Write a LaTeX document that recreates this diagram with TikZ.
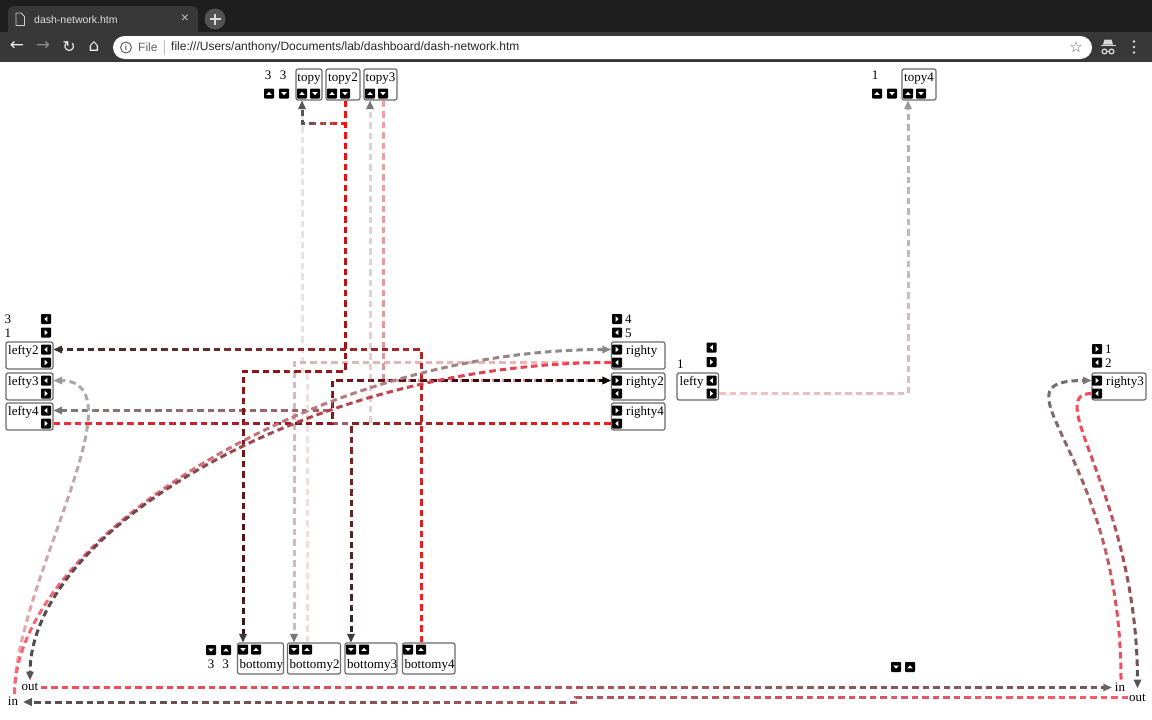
\documentclass[tikz,border=0pt]{standalone}
\usepackage{fontspec}
\setmainfont{Liberation Serif}
\newfontfamily\uifont{Liberation Sans}
\newfontfamily\symfont{DejaVu Sans}
\usetikzlibrary{calc}

\definecolor{frameC}{HTML}{1E1E1E}
\definecolor{barC}{HTML}{383838}
\definecolor{boxC}{HTML}{6A6A6A}
% connector colours (source a -> target b)
\definecolor{c1a}{HTML}{FF1A1A}\definecolor{c1b}{HTML}{555555}
\definecolor{c2a}{HTML}{FF1010}\definecolor{c2b}{HTML}{2A1A1A}
\definecolor{c3a}{HTML}{F6DCDC}\definecolor{c3b}{HTML}{E4E4E4}
\definecolor{c4a}{HTML}{F2B4B4}\definecolor{c4b}{HTML}{C8BCBC}
\definecolor{c5a}{HTML}{F4A0A8}\definecolor{c5b}{HTML}{D08C94}
\definecolor{c6a}{HTML}{FF2A3A}\definecolor{c6b}{HTML}{000000}
\definecolor{c7a}{HTML}{FF1A1A}\definecolor{c7b}{HTML}{2E2626}
\definecolor{c8a}{HTML}{F0C8C8}\definecolor{c8b}{HTML}{D6D6D6}
\definecolor{c9a}{HTML}{FF1A1A}\definecolor{c9b}{HTML}{3A3030}
\definecolor{c10a}{HTML}{D04050}\definecolor{c10b}{HTML}{7A7A7A}
\definecolor{c11a}{HTML}{F7BFC4}\definecolor{c11b}{HTML}{B0B0B0}
\definecolor{h1a}{HTML}{FF4A5A}\definecolor{h1b}{HTML}{6A5A5A}
\definecolor{h2a}{HTML}{FF5A6A}\definecolor{h2b}{HTML}{505050}
\definecolor{k1a}{HTML}{FF6070}\definecolor{k1b}{HTML}{8A8A8A}
\definecolor{k2a}{HTML}{FF4050}\definecolor{k2b}{HTML}{4A4A4A}
\definecolor{k3a}{HTML}{F4A4AE}\definecolor{k3b}{HTML}{A8A8A8}
\definecolor{k4a}{HTML}{FF4A5A}\definecolor{k4b}{HTML}{555555}
\definecolor{k5a}{HTML}{FF4A5A}\definecolor{k5b}{HTML}{6E6E6E}
% arrow tip colours
\definecolor{aG3}{HTML}{3A3A3A}\definecolor{aG3r}{HTML}{3A3030}
\definecolor{aG5}{HTML}{555555}\definecolor{aG6}{HTML}{666666}
\definecolor{aG7}{HTML}{777777}\definecolor{aG8}{HTML}{888888}
\definecolor{aG9}{HTML}{999999}

% buttons
\newcommand\bU[2]{\node[btn] (#1) at (#2) {};\fill[white] ($(#1.center)+(-2.8,1.4)$) -- ($(#1.center)+(2.8,1.4)$) -- ($(#1.center)+(0,-1.6)$) -- cycle;}
\newcommand\bD[2]{\node[btn] (#1) at (#2) {};\fill[white] ($(#1.center)+(-2.8,-1.4)$) -- ($(#1.center)+(2.8,-1.4)$) -- ($(#1.center)+(0,1.6)$) -- cycle;}
\newcommand\bL[2]{\node[btn] (#1) at (#2) {};\fill[white] ($(#1.center)+(1.4,-2.8)$) -- ($(#1.center)+(1.4,2.8)$) -- ($(#1.center)+(-1.6,0)$) -- cycle;}
\newcommand\bR[2]{\node[btn] (#1) at (#2) {};\fill[white] ($(#1.center)+(-1.4,-2.8)$) -- ($(#1.center)+(-1.4,2.8)$) -- ($(#1.center)+(1.6,0)$) -- cycle;}
% arrow tips
\newcommand\tipU[2]{\fill[#2] (#1) -- +(-4,8.5) -- +(4,8.5) -- cycle;}
\newcommand\tipD[2]{\fill[#2] (#1) -- +(-4,-8.5) -- +(4,-8.5) -- cycle;}
\newcommand\tipL[2]{\fill[#2] (#1) -- +(8.5,-4) -- +(8.5,4) -- cycle;}
\newcommand\tipR[2]{\fill[#2] (#1) -- +(-8.5,-4) -- +(-8.5,4) -- cycle;}
% gradient connector: [opts]{source}{target}{colA}{colB}{path}
\newcommand\gconn[6][]{%
  \pgfpointdiff{\pgfpointanchor{#2}{center}}{\pgfpointanchor{#3}{center}}%
  \pgfgetlastxy{\gdx}{\gdy}%
  \pgfmathsetmacro\gang{atan2(\gdy,\gdx)}%
  \pgfmathsetmacro\glen{veclen(\gdx,\gdy)}%
  \foreach \gi in {0,...,13}{%
    \pgfmathsetmacro\ga{\gi==0 ? -400 : \gi*\glen/14}%
    \pgfmathsetmacro\gb{\gi==13 ? \glen+400 : (\gi+1)*\glen/14}%
    \pgfmathsetmacro\gp{(\gi+0.5)*100/14}%
    \begin{scope}[shift={(#2)}, rotate=\gang]
      \clip (\ga pt,-1200pt) rectangle (\gb pt,1200pt);
      \begin{scope}[reset cm]
        \draw[conn, draw=#5!\gp!#4, #1] #6;
      \end{scope}
    \end{scope}}}

\begin{document}
\begin{tikzpicture}[x=1pt,y=-1pt,
  lbl/.style={inner sep=0pt, font=\fontsize{13}{15}\selectfont},
  nbox/.style={draw=boxC, line width=1.2pt, rounded corners=2pt, inner sep=0pt, fill=white},
  btn/.style={fill=black, minimum size=10pt, inner sep=0pt, rounded corners=0.8pt},
  conn/.style={line width=3pt, dash pattern=on 6.5pt off 4pt},
  ui/.style={inner sep=0pt, font=\uifont\fontsize{12}{14}\selectfont},
  sym/.style={inner sep=0pt}]
\useasboundingbox (0,0) rectangle (1152,720);
\fill[white] (0,0) rectangle (1152,720);

% ---------- browser chrome ----------
\fill[frameC] (0,0) rectangle (1152,32);
\fill[barC, rounded corners=6pt] (8,6) rectangle (198,40);
\fill[barC] (0,32) rectangle (1152,62);
\draw[white!80!black, line width=0.9pt, line join=round] (16,13) -- (21,13) -- (24.5,16.5) -- (24.5,25.5) -- (16,25.5) -- cycle;
\node[ui, anchor=west, text=white!88!black, font=\uifont\fontsize{10.5}{12}\selectfont] (tabtitle) at (34,19.5) {dash-network.htm};
\node[ui, text=white!75!black, font=\uifont\fontsize{14}{14}\selectfont] (tabclose) at (185,19) {×};
\fill[white!32!black] (215,19) circle (10.5);
\draw[white!85!black, line width=1.6pt] (209.5,19) -- (220.5,19) (215,13.5) -- (215,24.5);
\node[sym, text=white!92!black, font=\symfont\fontsize{17}{17}\selectfont] (back) at (17,46.5) {←};
\node[sym, text=white!55!black, font=\symfont\fontsize{17}{17}\selectfont] (fwd) at (43,46.5) {→};
\node[sym, text=white!92!black, font=\symfont\fontsize{16}{16}\selectfont] (reload) at (69,47) {↻};
\node[sym, text=white!92!black, font=\symfont\fontsize{17}{17}\selectfont] (home) at (94,46.5) {⌂};
\fill[white, rounded corners=11.5pt] (113,36) rectangle (1092,59);
\draw[white!38!black, line width=1pt] (126,47.5) circle (5.5);
\node[sym, text=white!38!black, font=\uifont\bfseries\fontsize{8}{8}\selectfont] (info) at (126,47.8) {i};
\node[ui, anchor=west, text=white!38!black] (filelbl) at (138,47.5) {File};
\draw[white!75!black, line width=0.8pt] (164.5,40) -- (164.5,55);
\node[ui, anchor=west, text=black!85] (url) at (171,47.5) {file:///Users/anthony/Documents/lab/dashboard/dash-network.htm};
\node[sym, text=white!38!black, font=\symfont\fontsize{15}{15}\selectfont] (star) at (1076,47) {☆};
\fill[white!85!black] (1100.5,44.5) rectangle (1115.5,45.8);
\fill[white!85!black] (1103,44.5) -- (1104.5,39.5) -- (1111.5,39.5) -- (1113,44.5) -- cycle;
\draw[white!85!black, line width=1.2pt] (1104.5,51.5) circle (2.4) (1111.5,51.5) circle (2.4) (1106.9,51.5) -- (1109.1,51.5);
\fill[white!85!black] (1134,41.5) circle (1.4) (1134,47) circle (1.4) (1134,52.5) circle (1.4);

% ---------- top row ----------
\node[lbl, anchor=base] (n3a) at (268,79) {3};
\node[lbl, anchor=base] (n3b) at (283,79) {3};
\bU{ua}{269,93.5}\bD{da}{284,93.5}
\node[nbox, minimum width=26pt, minimum height=31pt] (topy) at (309,84.5) {};
\node[lbl, anchor=base] (topyL) at (309,81.5) {topy};
\bU{topyU}{302,93.5}\bD{topyD}{315,93.5}
\node[nbox, minimum width=34pt, minimum height=31pt] (topy2) at (343,84.5) {};
\node[lbl, anchor=base] (topy2L) at (343,81.5) {topy2};
\bU{topy2U}{332,93.5}\bD{topy2D}{345,93.5}
\node[nbox, minimum width=33pt, minimum height=31pt] (topy3) at (380.5,84.5) {};
\node[lbl, anchor=base] (topy3L) at (380.5,81.5) {topy3};
\bU{topy3U}{370,93.5}\bD{topy3D}{383,93.5}
\node[lbl, anchor=base] (n1t) at (875,79) {1};
\bU{ub}{877,93.5}\bD{db}{892,93.5}
\node[nbox, minimum width=34pt, minimum height=31pt] (topy4) at (919,84.5) {};
\node[lbl, anchor=base] (topy4L) at (919,81.5) {topy4};
\bU{topy4U}{908,93.5}\bD{topy4D}{921,93.5}

% ---------- left column ----------
\node[lbl, anchor=base west] (nl3) at (4.5,323) {3};
\bL{lA}{46,319}
\node[lbl, anchor=base west] (nl1) at (4.5,337.5) {1};
\bR{lB}{46,332.5}
\node[nbox, minimum width=47pt, minimum height=27pt] (lefty2) at (29.5,355.5) {};
\node[lbl, anchor=base west] (lefty2L) at (8,354.5) {lefty2};
\bL{l2A}{46,349.5}\bR{l2B}{46,362.5}
\node[nbox, minimum width=47pt, minimum height=27pt] (lefty3) at (29.5,386.5) {};
\node[lbl, anchor=base west] (lefty3L) at (8,385.5) {lefty3};
\bL{l3A}{46,380.5}\bR{l3B}{46,393.5}
\node[nbox, minimum width=47pt, minimum height=27pt] (lefty4) at (29.5,416.5) {};
\node[lbl, anchor=base west] (lefty4L) at (8,415.5) {lefty4};
\bL{l4A}{46,410.5}\bR{l4B}{46,423.5}

% ---------- right column ----------
\bR{rA}{617,319}\node[lbl, anchor=base west] (nr4) at (625,323) {4};
\bL{rB}{617,332.5}\node[lbl, anchor=base west] (nr5) at (625,337) {5};
\node[nbox, minimum width=53.5pt, minimum height=27pt] (righty) at (638.25,355.5) {};
\node[lbl, anchor=base west] (rightyL) at (626,354.5) {righty};
\bR{r1A}{617,349.5}\bL{r1B}{617,362.5}
\node[nbox, minimum width=53.5pt, minimum height=27pt] (righty2) at (638.25,386.5) {};
\node[lbl, anchor=base west] (righty2L) at (626,385.5) {righty2};
\bR{r2A}{617,380.5}\bL{r2B}{617,393.5}
\node[nbox, minimum width=53.5pt, minimum height=27pt] (righty4) at (638.25,416.5) {};
\node[lbl, anchor=base west] (righty4L) at (626,415.5) {righty4};
\bR{r4A}{617,410.5}\bL{r4B}{617,423.5}

% lefty
\node[lbl, anchor=base west] (nlf1) at (677,368) {1};
\bL{lfA}{711.5,347.5}\bR{lfB}{711.5,362}
\node[nbox, minimum width=41.5pt, minimum height=27pt] (lefty) at (697.75,386.5) {};
\node[lbl, anchor=base west] (leftyL) at (679.5,385.5) {lefty};
\bL{lf2A}{711.5,380.5}\bR{lf2B}{711.5,393.5}

% righty3
\bR{r3uA}{1097,349}\node[lbl, anchor=base west] (nr31) at (1105,353.5) {1};
\bL{r3uB}{1097,362.5}\node[lbl, anchor=base west] (nr32) at (1105,367) {2};
\node[nbox, minimum width=54pt, minimum height=27pt] (righty3) at (1119,386.5) {};
\node[lbl, anchor=base west] (righty3L) at (1106,385.5) {righty3};
\bR{r3A}{1097,380.5}\bL{r3B}{1097,393.5}

% ---------- bottom row ----------
\bD{bda}{211,650}\bU{bua}{226,650}
\node[lbl, anchor=base] (nb3a) at (211,668.5) {3};
\node[lbl, anchor=base] (nb3b) at (225.5,668.5) {3};
\node[nbox, minimum width=46pt, minimum height=31pt] (bottomy) at (260.5,658.5) {};
\node[lbl, anchor=base west] (bottomyL) at (239.5,668.5) {bottomy};
\bD{b1D}{243,649.5}\bU{b1U}{256,649.5}
\node[nbox, minimum width=53pt, minimum height=31pt] (bottomy2) at (314,658.5) {};
\node[lbl, anchor=base west] (bottomy2L) at (289.5,668.5) {bottomy2};
\bD{b2D}{294,649.5}\bU{b2U}{307,649.5}
\node[nbox, minimum width=52pt, minimum height=31pt] (bottomy3) at (371,658.5) {};
\node[lbl, anchor=base west] (bottomy3L) at (347,668.5) {bottomy3};
\bD{b3D}{351,649.5}\bU{b3U}{364,649.5}
\node[nbox, minimum width=52.5pt, minimum height=31pt] (bottomy4) at (428.75,658.5) {};
\node[lbl, anchor=base west] (bottomy4L) at (404.5,668.5) {bottomy4};
\bD{b4D}{408,649.5}\bU{b4U}{421,649.5}
\bD{mD}{896,667}\bU{mU}{910,667}

% corner labels
\node[lbl] (BLout) at (30,687) {out};
\node[lbl] (BLin) at (13,701.5) {in};
\node[lbl] (BRin) at (1120,687) {in};
\node[lbl] (BRout) at (1137.5,698) {out};

% ---------- ports ----------
\coordinate (p-topy-in) at (topyU |- topy.south);
\coordinate (p-topy2-out) at (topy2D |- topy2.south);
\coordinate (p-topy3-in) at (topy3U |- topy3.south);
\coordinate (p-topy3-out) at (topy3D |- topy3.south);
\coordinate (p-topy4-in) at (topy4U |- topy4.south);
\coordinate (p-b1-in) at (b1D |- bottomy.north);
\coordinate (p-b2-in) at (b2D |- bottomy2.north);
\coordinate (p-b2-out) at (b2U |- bottomy2.north);
\coordinate (p-b3-in) at (b3D |- bottomy3.north);
\coordinate (p-b4-out) at (b4U |- bottomy4.north);
\coordinate (p-l2-in) at (lefty2.east |- l2A);
\coordinate (p-l3-in) at (lefty3.east |- l3A);
\coordinate (p-l4-in) at (lefty4.east |- l4A);
\coordinate (p-l4-out) at (lefty4.east |- l4B);
\coordinate (p-r1-in) at (righty.west |- r1A);
\coordinate (p-r1-out) at (righty.west |- r1B);
\coordinate (p-r2-in) at (righty2.west |- r2A);
\coordinate (p-r4-out) at (righty4.west |- r4B);
\coordinate (p-lf-out) at (lefty.east |- lf2B);
\coordinate (p-r3-in) at (righty3.west |- r3A);
\coordinate (p-r3-out) at (righty3.west |- r3B);
\coordinate (BLin-n) at ($(BLin.north)+(1.5,-3)$);
\coordinate (BLin-e) at ($(BLin.east)+(5,0.5)$);
\coordinate (BLout-n) at ($(BLout.north)+(0,-3)$);
\coordinate (BLout-e) at ($(BLout.east)+(2,0.5)$);
\coordinate (BRin-w) at ($(BRin.west |- BLout-e)+(-3,0)$);
\coordinate (BRin-n) at ($(BRin.north)+(1,-3)$);
\coordinate (BRout-n) at ($(BRout.north)+(0,-6)$);
\coordinate (BRout-w) at ($(BRout.west)+(-1,-1)$);

% ---------- connectors ----------
\gconn{p-r4-out}{p-topy3-in}{c8a}{c8b}{(p-r4-out) -| ($(p-topy3-in)+(0,7)$)}
\gconn{p-r4-out}{p-l4-in}{c10a}{c10b}{(p-r4-out) -| ($(p-r4-out)!0.5!(p-l4-in)$) |- ($(p-l4-in)+(7,0)$)}
\gconn{p-b2-out}{p-topy-in}{c3a}{c3b}{(p-b2-out) |- ($(p-b2-out)!0.5!(p-topy-in)$) -| ($(p-topy-in)+(0,7)$)}
\gconn{p-r1-out}{p-b2-in}{c4a}{c4b}{(p-r1-out) -| ($(p-b2-in)+(0,-7)$)}
\gconn{p-topy3-out}{p-r2-in}{c5a}{c5b}{(p-topy3-out) |- ($(p-r2-in)+(-7,0)$)}
\gconn{p-topy2-out}{p-topy-in}{c1a}{c1b}{(p-topy2-out) -- ++(0,23) -| ($(p-topy-in)+(0,7)$)}
\gconn{p-topy2-out}{p-b1-in}{c2a}{c2b}{(p-topy2-out) |- ($(p-topy2-out)!0.5!(p-b1-in)$) -| ($(p-b1-in)+(0,-7)$)}
\gconn{p-l4-out}{p-r2-in}{c6a}{c6b}{(p-l4-out) -| ($(p-l4-out)!0.5!(p-r2-in)$) |- ($(p-r2-in)+(-7,0)$)}
\gconn{p-r4-out}{p-b3-in}{c7a}{c7b}{(p-r4-out) -| ($(p-b3-in)+(0,-7)$)}
\gconn{p-b4-out}{p-l2-in}{c9a}{c9b}{(p-b4-out) |- ($(p-l2-in)+(7,0)$)}
\gconn{p-lf-out}{p-topy4-in}{c11a}{c11b}{(p-lf-out) -| ($(p-topy4-in)+(0,7)$)}
\gconn{BLout-e}{BRin-w}{h1a}{h1b}{(BLout-e) -- ($(BRin-w)+(-7,0)$)}
\gconn{BRout-w}{BLin-e}{h2a}{h2b}{(BRout-w) -| ($(BRout-w)!0.5!(BLin-e)$) |- ($(BLin-e)+(7,0)$)}
\gconn{BLin-n}{p-l3-in}{k3a}{k3b}{(BLin-n) .. controls ($(BLin-n)+(0,-110)$) and ($(p-l3-in)+(90,0)$) .. ($(p-l3-in)+(7,0)$)}
\gconn{BLin-n}{p-r1-in}{k1a}{k1b}{(BLin-n) .. controls ($(BLin-n)+(0,-150)$) and ($(p-r1-in)+(-300,0)$) .. ($(p-r1-in)+(-7,0)$)}
\gconn{p-r1-out}{BLout-n}{k2a}{k2b}{(p-r1-out) .. controls ($(p-r1-out)+(-300,0)$) and ($(BLout-n)+(0,-150)$) .. ($(BLout-n)+(0,-7)$)}
\gconn{BRin-n}{p-r3-in}{k5a}{k5b}{(BRin-n) .. controls ($(BRin-n)+(0,-230)$) and ($(p-r3-in)+(-105,0)$) .. ($(p-r3-in)+(-7,0)$)}
\gconn{p-r3-out}{BRout-n}{k4a}{k4b}{(p-r3-out) .. controls ($(p-r3-out)+(-50,0)$) and ($(BRout-n)+(0,-190)$) .. ($(BRout-n)+(0,-7)$)}

% ---------- arrow tips ----------
\tipU{p-topy-in}{aG5}
\tipU{p-topy3-in}{aG7}
\tipU{p-topy4-in}{aG9}
\tipD{p-b1-in}{aG3}
\tipD{p-b2-in}{aG7}
\tipD{p-b3-in}{aG3}
\tipL{p-l2-in}{aG3r}
\tipL{p-l3-in}{aG9}
\tipL{p-l4-in}{aG7}
\tipR{p-r1-in}{aG8}
\tipR{p-r2-in}{black}
\tipR{p-r3-in}{aG7}
\tipR{BRin-w}{aG6}
\tipL{BLin-e}{aG5}
\tipD{BLout-n}{aG5}
\tipD{BRout-n}{aG5}
\end{tikzpicture}
\end{document}
